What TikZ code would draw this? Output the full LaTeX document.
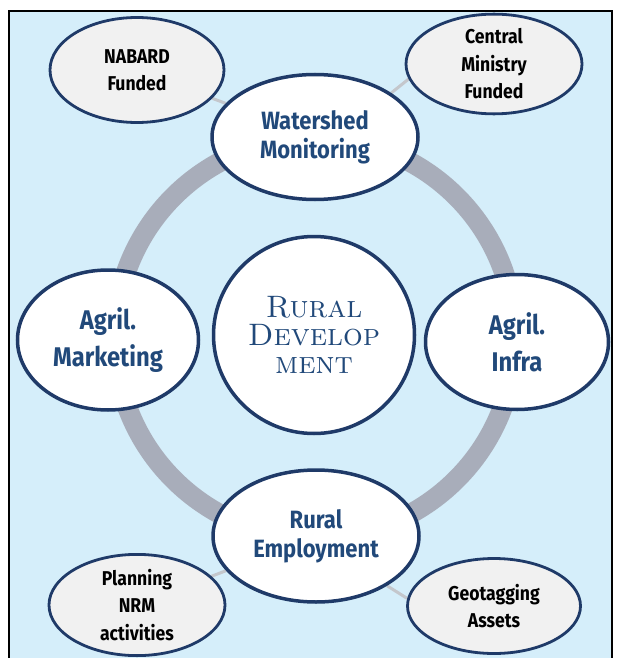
\documentclass[tikz,border=0pt]{standalone}
\usepackage{fontspec}
\newfontfamily\lblfont[FakeStretch=0.88]{Fira Sans}
\usetikzlibrary{shapes.geometric}

\definecolor{skyback}{HTML}{D5EEFA}
\definecolor{ringgray}{HTML}{A8ADBA}
\definecolor{navyline}{HTML}{1F3A68}
\definecolor{navytext}{HTML}{21497A}
\definecolor{paleleaf}{HTML}{F1F1F1}
\definecolor{linkgray}{HTML}{C4C7CC}

\pgfdeclarelayer{back}
\pgfdeclarelayer{links}
\pgfsetlayers{back,links,main}

\tikzset{
    hub/.style={ellipse, draw=navyline, line width=3.5pt, fill=white,
        text=navytext, align=center, inner sep=0pt,
        font=\lblfont\bfseries\fontsize{25}{29}\selectfont},
    bighub/.style={hub, font=\lblfont\bfseries\fontsize{27}{37}\selectfont},
    leaf/.style={ellipse, draw=navyline, line width=2.8pt, fill=paleleaf,
        text=black, align=center, inner sep=0pt,
        font=\lblfont\bfseries\fontsize{20}{27.5}\selectfont},
    link/.style={linkgray, line width=3pt}
}

\begin{document}
\begin{tikzpicture}[x=1pt,y=-1pt]
    \useasboundingbox (0,0) rectangle (618,658);

    \begin{pgfonlayer}{back}
        \fill[skyback] (9,11) rectangle (612,658);
        \draw[line width=2.5pt] (9,658) -- (9,11) -- (612,11) -- (612,658);
        % the grey ring joining the four outer topics
        \draw[ringgray, line width=20pt] (315,338) circle (200);
    \end{pgfonlayer}

    % centre
    \node[hub, minimum width=201pt, minimum height=197pt,
        font=\rmfamily\fontsize{31}{28}\selectfont] (rural) at (314,335)
        {\textsc{Rural}\\\textsc{Develop}\\\textsc{ment}};

    % outer topics
    \node[hub, minimum width=206pt, minimum height=125pt] (watershed) at (315,137)
        {Watershed\\Monitoring};
    \node[bighub, minimum width=181pt, minimum height=140pt] (marketing) at (108,340)
        {Agril.\\Marketing};
    \node[bighub, minimum width=183pt, minimum height=135pt] (infra) at (517,342)
        {Agril.\\Infra};
    \node[hub, minimum width=206pt, minimum height=132pt] (employment) at (316,536)
        {Rural\\Employment};

    % funding and tasks
    \node[leaf, minimum width=174pt, minimum height=105pt] (nabard) at (137,70)
        {NABARD\\Funded};
    \node[leaf, minimum width=176pt, minimum height=98pt] (central) at (494,64)
        {Central\\Ministry\\Funded};
    \node[leaf, minimum width=176pt, minimum height=97pt] (planning) at (137,605)
        {Planning\\NRM\\activities};
    \node[leaf, minimum width=173pt, minimum height=95pt] (geotag) at (494,606)
        {Geotagging\\Assets};

    \begin{pgfonlayer}{links}
        \draw[link] (nabard) -- (watershed);
        \draw[link] (central.190) -- (watershed.30);
        \draw[link] (planning) -- (employment);
        \draw[link] (geotag.175) -- (employment.-35);
    \end{pgfonlayer}
\end{tikzpicture}
\end{document}
